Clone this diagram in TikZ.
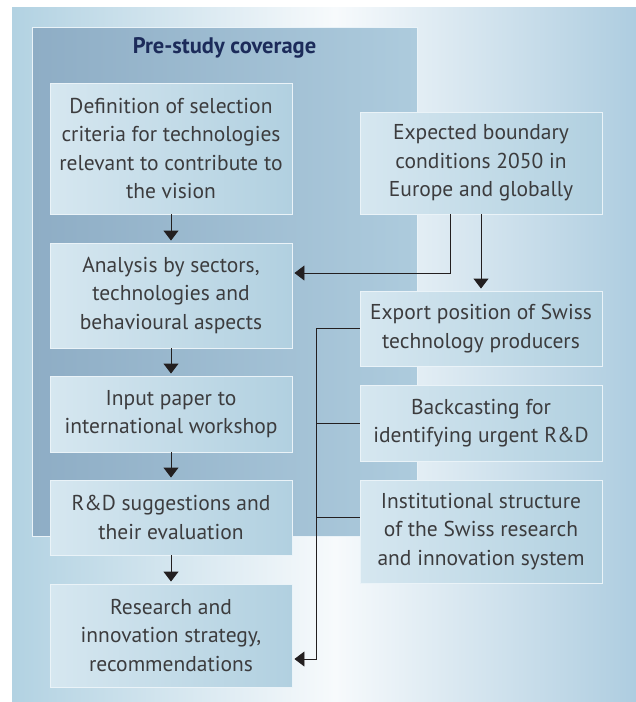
\documentclass[tikz,border=0pt]{standalone}
\usepackage{fontspec}
\setmainfont{PT Sans}
\usetikzlibrary{arrows.meta}
\definecolor{bgblue}{HTML}{B2D2E2}
\definecolor{bgblueR}{HTML}{AECDE0}
\definecolor{bgwhite}{HTML}{F7FAFC}
\definecolor{panelL}{HTML}{8EADC5}
\definecolor{panelR}{HTML}{ADCBDD}
\definecolor{boxL}{HTML}{D6E7F0}
\definecolor{boxR}{HTML}{B1D0E0}
\definecolor{edgew}{HTML}{EAF3F8}
\definecolor{txt}{HTML}{3C3C3E}
\definecolor{navy}{HTML}{1C2B5A}
\definecolor{linec}{HTML}{231F20}
\tikzset{
  stepbox/.style={draw=edgew, line width=0.9pt, left color=boxL, right color=boxR,
    minimum width=242pt, align=center, text=txt, inner sep=0pt,
    font=\fontsize{21.5}{28.5}\selectfont},
  conn/.style={draw=linec, line width=0.9pt},
  arr/.style={conn, -{Triangle[width=15pt,length=10pt]}, shorten >=2pt},
}
\begin{document}
\begin{tikzpicture}[x=1pt,y=-1pt]
\useasboundingbox (0,0) rectangle (636,702);
% background
\shade[left color=bgblue, right color=bgwhite] (12,7) rectangle (335,702);
\shade[left color=bgwhite, right color=bgblueR] (335,7) rectangle (636,702);
% panel
\draw[draw=edgew, line width=0.9pt, left color=panelL, right color=panelR] (32,27) rectangle (417,536);
\node[font=\fontsize{22.5}{26}\selectfont\bfseries, text=navy] (title) at (224.5,48) {Pre-study coverage};
% left column
\node[stepbox, minimum height=131pt] (b1) at (171,148.5) {Definition of selection\\criteria for technologies\\relevant to contribute to\\the vision};
\node[stepbox, minimum height=105pt] (b2) at (171,295.5) {Analysis by sectors,\\technologies and\\behavioural aspects};
\node[stepbox, minimum height=76pt] (b3) at (171,414) {Input paper to\\international workshop};
\node[stepbox, minimum height=75pt] (b4) at (171,517.5) {R\&D suggestions and\\their evaluation};
\node[stepbox, minimum height=103pt] (b5) at (171,635.5) {Research and\\innovation strategy,\\recommendations};
% right column
\node[stepbox, minimum height=102pt] (r1) at (481,163) {Expected boundary\\conditions 2050 in\\Europe and globally};
\node[stepbox, minimum height=75pt] (r2) at (481,328.5) {Export position of Swiss\\technology producers};
\node[stepbox, minimum height=76pt] (r3) at (481,423) {Backcasting for\\identifying urgent R\&D};
\node[stepbox, minimum height=103pt] (r4) at (481,531.5) {Institutional structure\\of the Swiss research\\and innovation system};
% connectors
\coordinate (j1) at (450,273);
\coordinate (bb) at (316,659);
\coordinate (j4) at (316,517);
\draw[arr] (b1.south) -- (b2.north);
\draw[arr] (b2.south) -- (b3.north);
\draw[arr] (b3.south) -- (b4.north);
\draw[arr] (b4.south) -- (b5.north);
\draw[arr] (r1.south -| j1) -- (j1) -- (b2.east |- j1);
\draw[arr] (r1.south) -- (r2.north);
\draw[arr] (r2.west) -| (bb) -- (b5.east |- bb);
\draw[conn] (r3.west) -- (r3.west -| bb);
\draw[conn] (r4.west |- j4) -- (j4);
\end{tikzpicture}
\end{document}
